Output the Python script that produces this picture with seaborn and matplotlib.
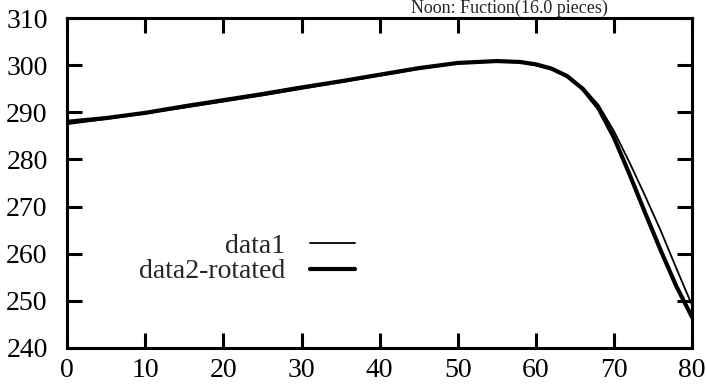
import matplotlib
matplotlib.use("Agg")
import matplotlib.pyplot as plt
import seaborn as sns
import pandas as pd

x_vals = [0, 5, 10, 15, 20, 25, 30, 35, 40, 45, 50, 55, 58, 60, 62, 64, 66, 68, 70, 72, 74, 76, 78, 80]
data1 = [287.5, 288.6, 289.8, 291.0, 292.3, 293.6, 295.0, 296.4, 297.8, 299.2, 300.4, 300.8, 300.6, 300.0,
         299.1, 297.6, 295.3, 291.6, 286.0, 279.3, 272.2, 264.8, 256.8, 249.0]
data2 = [288.0, 288.8, 289.9, 291.3, 292.6, 293.9, 295.3, 296.6, 298.0, 299.4, 300.5, 300.9, 300.7, 300.2,
         299.3, 297.7, 295.0, 290.9, 284.6, 276.8, 268.6, 260.6, 253.0, 246.5]
series_names = ["data1", "data2-rotated"]
x_ticks = [0, 10, 20, 30, 40, 50, 60, 70, 80]
y_ticks = [240, 250, 260, 270, 280, 290, 300, 310]
title_text = "Noon: Fuction(16.0 pieces)"

sns.set_theme(style="ticks")
plt.rcParams['font.family'] = ['Liberation Serif', 'DejaVu Serif']

fig = plt.figure(figsize=(7.07, 3.87), dpi=100)
ax = fig.add_axes([0.095, 0.101, 0.884, 0.852])

df1 = pd.DataFrame({"x": x_vals, "y": data1})
df2 = pd.DataFrame({"x": x_vals, "y": data2})
sns.lineplot(data=df1, x="x", y="y", ax=ax, color="black", linewidth=1.3, label=series_names[0])
sns.lineplot(data=df2, x="x", y="y", ax=ax, color="black", linewidth=3.0, label=series_names[1])

ax.set_xlim(0, 80)
ax.set_ylim(240, 310)
ax.set_xticks(x_ticks)
ax.set_yticks(y_ticks)
ax.set_xlabel("")
ax.set_ylabel("")
ax.tick_params(axis="both", which="major", direction="in", length=11, width=2.2,
               labelsize=20, colors="black", top=True, right=True)
ax.tick_params(axis="x", pad=7)
ax.tick_params(axis="y", pad=14)
for sp in ax.spines.values():
    sp.set_linewidth(2.2)
    sp.set_color("black")

leg = ax.legend(loc="center right", bbox_to_anchor=(0.5, 0.27), frameon=False,
                markerfirst=False, fontsize=20, handlelength=1.6, labelspacing=0.0,
                handletextpad=0.9)

fig.text(0.72, 1.0, title_text, ha="center", va="top", fontsize=13)

fig.savefig("out.png", dpi=100, facecolor="white")
